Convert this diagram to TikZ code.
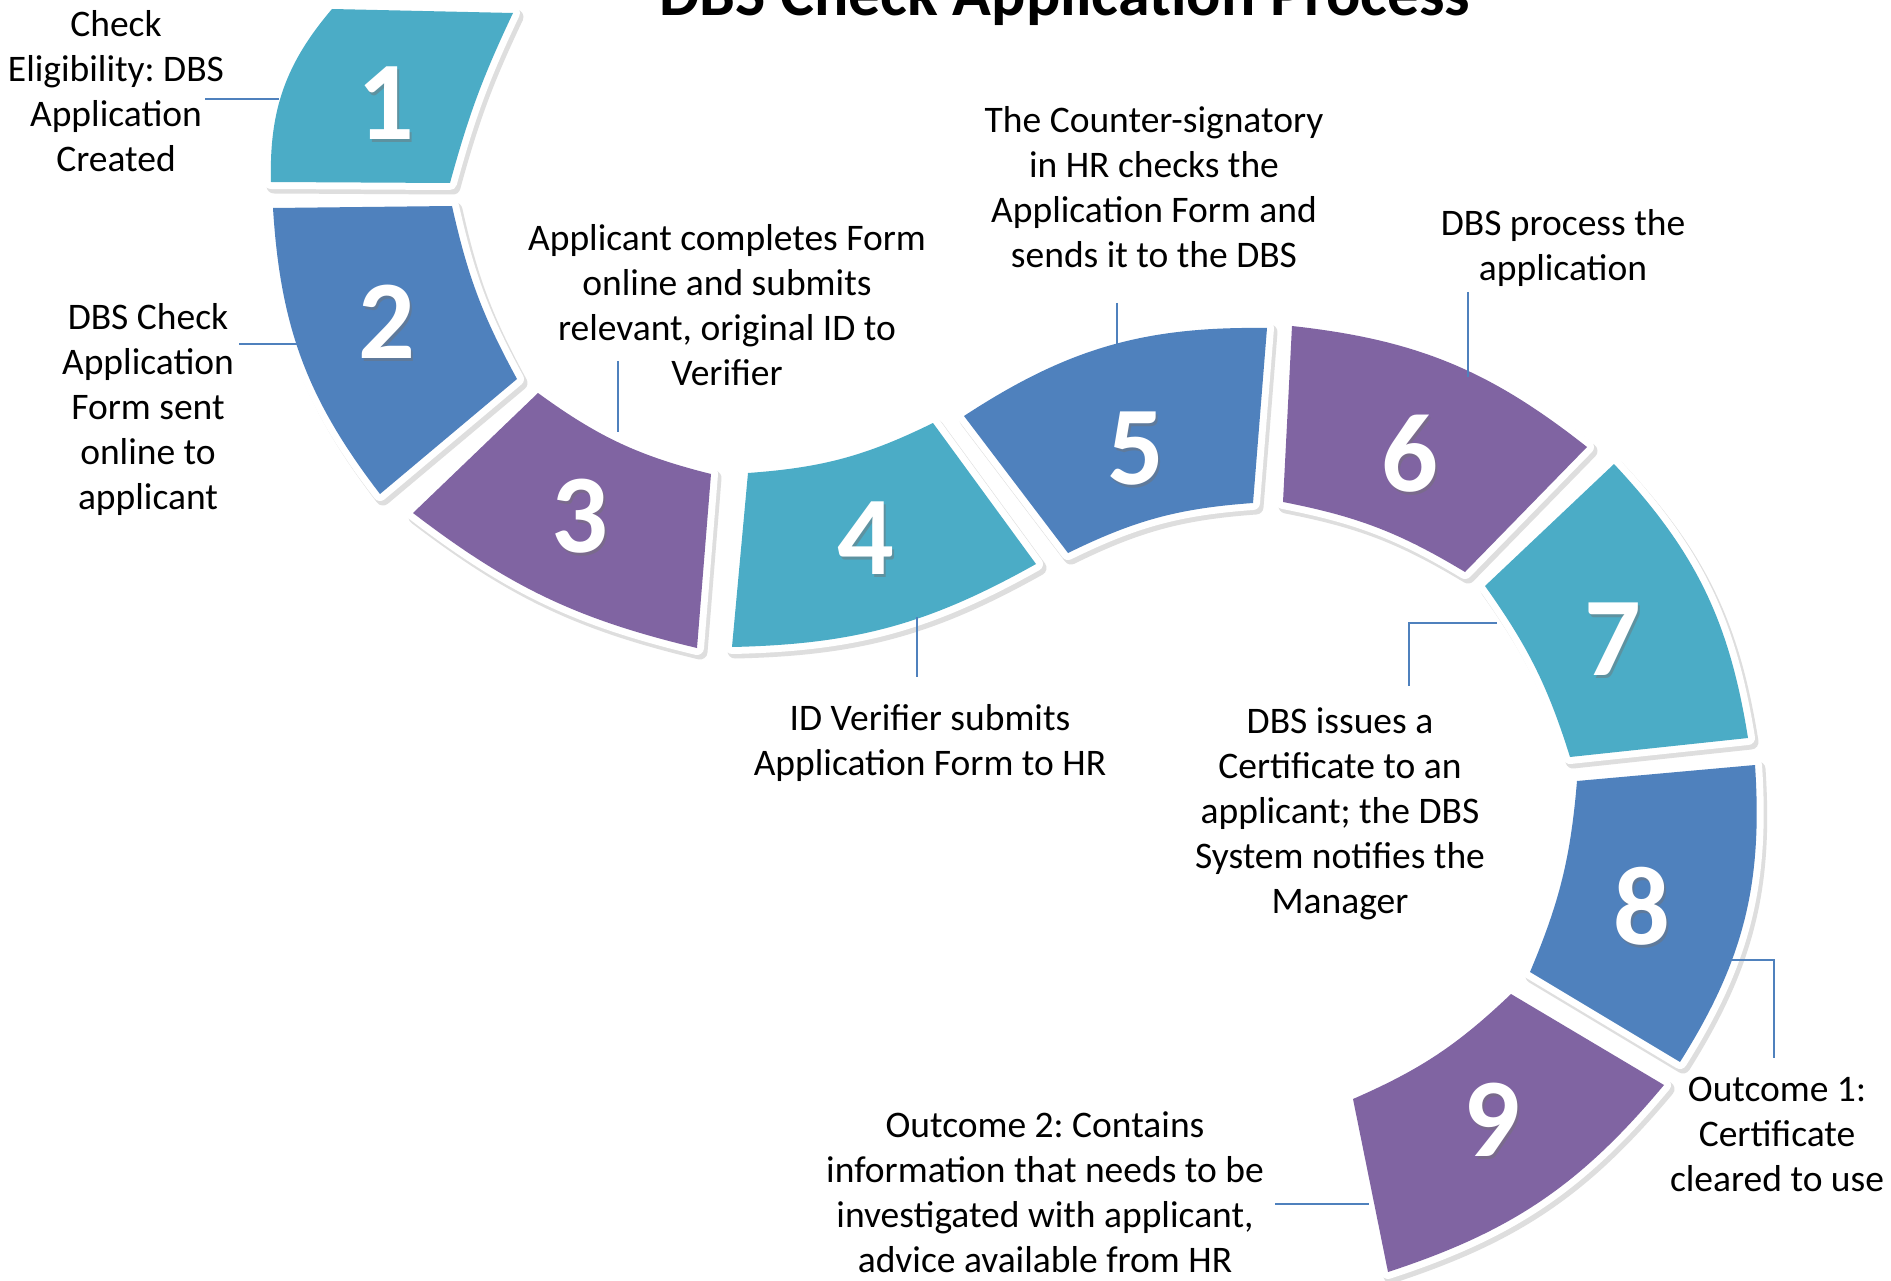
\documentclass[tikz,border=0pt]{standalone}
\usepackage{fontspec}
\setmainfont{Carlito}
\frenchspacing
\definecolor{cteal}{HTML}{4BACC6}
\definecolor{cblue}{HTML}{4F81BD}
\definecolor{cpurp}{HTML}{8064A2}
\newcommand\ribbonseg[2]{%
  \path[draw=black!13, fill=black!13, line width=15pt, line join=round, shift={(3,4)}] #2;
  \path[draw=white, fill=white, line width=14pt, line join=round] #2;
  \path[fill=#1] #2;
}
\tikzset{
  lbl/.style={align=center, font=\fontsize{37.5}{45}\selectfont, text=black, inner sep=0pt},
  num/.style={font=\fontsize{112}{112}\selectfont\bfseries, text=white, inner sep=0pt},
  numshadow/.style={font=\fontsize{112}{112}\selectfont\bfseries, text=black!55, opacity=0.45, inner sep=0pt},
  conn/.style={draw=cblue, line width=2pt},
}
\begin{document}
\begin{tikzpicture}[x=1pt, y=-1pt]
\useasboundingbox (0,0) rectangle (1891,1281);
\clip (0,0) rectangle (1891,1281);
\fill[white] (0,0) rectangle (1891,1281);

% title
\node[font=\fontsize{64}{64}\selectfont\bfseries, anchor=base, inner sep=0pt] (title) at (1065,16) {DBS Check Application Process};

% segments
\ribbonseg{cteal}{(332,9) -- (513,13) to[bend right=5] (450,183) -- (271,182) to[bend left=21] (332,9) -- cycle}
\ribbonseg{cblue}{(273,208) -- (452,206) to[bend right=8] (517,379) -- (380,494) to[bend left=17] (273,208) -- cycle}
\ribbonseg{cpurp}{(538,393) to[bend right=11] (711,474) -- (697,648) to[bend left=12] (413,513) -- (538,393) -- cycle}
\ribbonseg{cteal}{(748,473) to[bend right=11] (933,423) -- (1036,564) to[bend left=14] (732,647) -- (748,473) -- cycle}
\ribbonseg{cblue}{(964,416) to[bend left=17] (1267,328) -- (1253,503) to[bend right=11] (1068,553) -- (964,416) -- cycle}
\ribbonseg{cpurp}{(1292,326) to[bend left=16] (1587,447) -- (1465,572) to[bend right=10] (1283,502) -- (1292,326) -- cycle}
\ribbonseg{cteal}{(1485,586) -- (1614,464) to[bend left=17] (1748,738) -- (1570,757) to[bend right=9] (1485,586) -- cycle}
\ribbonseg{cblue}{(1577,781) -- (1755,765) to[bend left=18] (1680,1062) -- (1530,972) to[bend right=9] (1577,781) -- cycle}
\ribbonseg{cpurp}{(1511,994) -- (1664,1085) to[bend left=16] (1388,1272) -- (1353,1099) to[bend right=10] (1511,994) -- cycle}

% numbers
\foreach \n/\x/\y in {1/386/103, 2/387/322, 3/580/516, 4/866/538, 5/1136/449, 6/1410/454, 7/1613/639, 8/1642/906, 9/1492/1120}{
  \node[numshadow] (ns\n) at (\x+2,\y+3) {\n};
  \node[num] (n\n) at (\x,\y) {\n};
}

% labels
\node[lbl] (l1) at (116,91) {Check\\Eligibility: DBS\\Application\\Created};
\node[lbl] (l2) at (148,410) {DBS Check\\Application\\Form sent\\online to\\applicant};
\node[lbl] (l3) at (727,305) {Applicant completes Form\\online and submits\\relevant, original ID to\\Verifier};
\node[lbl] (l4) at (930,743) {ID Verifier submits\\Application Form to HR};
\node[lbl] (l5) at (1154,187) {The Counter-signatory\\in HR checks the\\Application Form and\\sends it to the DBS};
\node[lbl] (l6) at (1563,248) {DBS process the\\application};
\node[lbl] (l7) at (1340,814) {DBS issues a\\Certificate to an\\applicant; the DBS\\System notifies the\\Manager};
\node[lbl] (l8) at (1777,1134) {Outcome 1:\\Certificate\\cleared to use};
\node[lbl] (l9) at (1045,1192) {Outcome 2: Contains\\information that needs to be\\investigated with applicant,\\advice available from HR};

% connector end points
\coordinate (c1a) at (205,99);  \coordinate (c1b) at (279,99);
\coordinate (c2a) at (239,344); \coordinate (c2b) at (301,344);
\coordinate (c3a) at (618,361); \coordinate (c3b) at (618,432);
\coordinate (c4a) at (917,617); \coordinate (c4b) at (917,677);
\coordinate (c5a) at (1117,303);\coordinate (c5b) at (1117,350);
\coordinate (c6a) at (1468,292);\coordinate (c6b) at (1468,377);
\coordinate (c7a) at (1497,623);\coordinate (c7b) at (1409,686);
\coordinate (c8a) at (1718,960);\coordinate (c8b) at (1774,1058);
\coordinate (c9a) at (1275,1204);\coordinate (c9b) at (1369,1204);

\draw[conn] (c1a) -- (c1b);
\draw[conn] (c2a) -- (c2b);
\draw[conn] (c3a) -- (c3b);
\draw[conn] (c4a) -- (c4b);
\draw[conn] (c5a) -- (c5b);
\draw[conn] (c6a) -- (c6b);
\draw[conn] (c7a) -| (c7b);
\draw[conn] (c8a) -| (c8b);
\draw[conn] (c9a) -- (c9b);
\end{tikzpicture}
\end{document}
